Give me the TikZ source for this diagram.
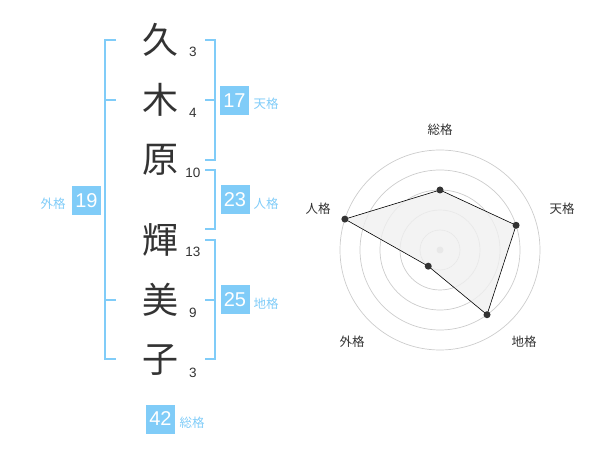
\documentclass[tikz,border=0pt]{standalone}
\usepackage{fontspec}
\setmainfont{Liberation Sans}
\newfontfamily\jp{Noto Sans CJK JP}
\definecolor{kaku}{HTML}{80CCF8}
\definecolor{ink}{HTML}{333333}
\definecolor{grid}{HTML}{CCCCCC}
\definecolor{area}{HTML}{F0F0F0}
\tikzset{
  kanji/.style={font=\jp\fontsize{36}{36}\selectfont, text=ink, inner sep=0pt},
  strokes/.style={font=\fontsize{13.5}{13.5}\selectfont, text=ink, inner sep=0pt},
  score/.style={fill=kaku, text=white, font=\fontsize{20}{20}\selectfont,
    minimum width=29pt, minimum height=29pt, inner sep=0pt},
  kakuname/.style={font=\jp\fontsize{12.5}{12.5}\selectfont, text=kaku, inner sep=0pt},
  axisname/.style={font=\jp\fontsize{12.5}{12.5}\selectfont, text=ink, inner sep=0pt},
  bracket/.style={draw=kaku, line width=2pt},
  dot/.style={circle, fill=ink, inner sep=0pt, minimum size=7pt}
}
\begin{document}
\begin{tikzpicture}[x=1pt,y=-1pt]
      \useasboundingbox (0,0) rectangle (600,470);
      \draw
        (160,40) node[kanji] (c1){久}
        (160,100) node[kanji] (c2){木}
        (160,160) node[kanji] (c3){原}
        (160,240) node[kanji] (c4){輝}
        (160,300) node[kanji] (c5){美}
        (160,360) node[kanji] (c6){子};
      \draw
        (193,52) node[strokes] (s1){3}
        (193,113) node[strokes] (s2){4}
        (193,173) node[strokes] (s3){10}
        (193,252) node[strokes] (s4){13}
        (193,313) node[strokes] (s5){9}
        (193,373) node[strokes] (s6){3};
      % brackets
      \begin{scope}[bracket]
        \draw (116,40) -- (105,40) -- (105,359) -- (116,359);
        \draw (105,100) -- (116,100);
        \draw (105,300) -- (116,300);
        \draw (205,40) -- (215,40) -- (215,160) -- (205,160);
        \draw (205,100) -- (215,100);
        \draw (205,170) -- (215,170) -- (215,229) -- (205,229);
        \draw (205,240) -- (215,240) -- (215,359) -- (205,359);
        \draw (205,300) -- (215,300);
      \end{scope}
      \draw
        (234.5,100.5) node[score] (ten){17}
        (235,200) node[score] (jin){23}
        (235,300) node[score] (chi){25}
        (86.5,200.5) node[score] (gai){19}
        (160.5,419) node[score] (sou){42};
      \draw
        (266,104) node[kakuname] (tenname){天格}
        (266,204) node[kakuname] (jinname){人格}
        (266,304) node[kakuname] (chiname){地格}
        (53,204) node[kakuname] (gainame){外格}
        (192,423) node[kakuname] (souname){総格};
      % radar chart
      \begin{scope}[shift={(440,250)}, yscale=-1]
        \foreach \r in {20,40,60,80,100}
          \draw[grid, line width=0.7pt] (0,0) circle (\r);
        \fill[grid] (0,0) circle (3.5);
        \coordinate (r1) at (90:60);
        \coordinate (r2) at (18:80);
        \coordinate (r3) at (-54:80);
        \coordinate (r4) at (-126:20);
        \coordinate (r5) at (162:100);
        \draw[fill=area, fill opacity=0.8, line width=0.6pt]
          (r1) -- (r2) -- (r3) -- (r4) -- (r5) -- cycle;
        \foreach \p in {r1,r2,r3,r4,r5}
          \node[dot] at (\p) {};
        \draw
          (0,120) node[axisname] (a1){総格}
          (122,41) node[axisname] (a2){天格}
          (84,-92) node[axisname] (a3){地格}
          (-88,-92) node[axisname] (a4){外格}
          (-122,41) node[axisname] (a5){人格};
      \end{scope}
    \end{tikzpicture}
\end{document}
